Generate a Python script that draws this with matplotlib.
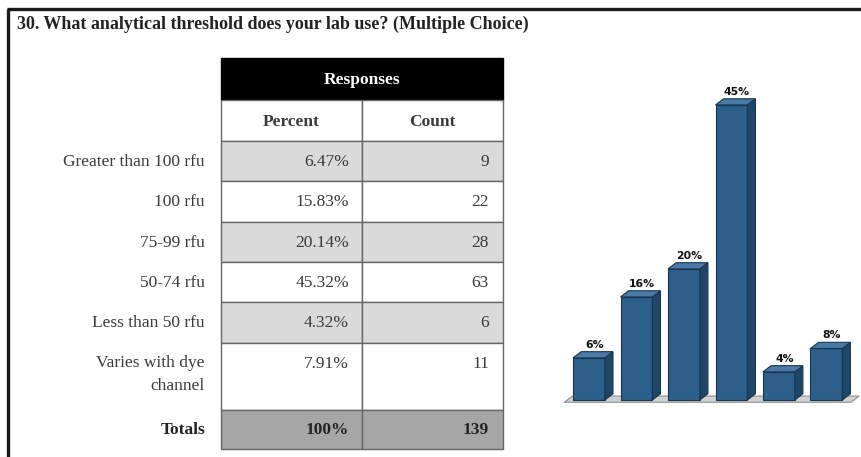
import matplotlib.pyplot as plt
from matplotlib.patches import Rectangle, Polygon

title = "30. What analytical threshold does your lab use? (Multiple Choice)"
answers = ["Greater than 100 rfu", "100 rfu", "75-99 rfu", "50-74 rfu",
           "Less than 50 rfu", "Varies with dye\nchannel"]
percents = [6.47, 15.83, 20.14, 45.32, 4.32, 7.91]
counts = [9, 22, 28, 63, 6, 11]
total_percent = "100%"
total_count = 139

plt.rcParams['font.family'] = ['Liberation Serif', 'DejaVu Serif']

W, H = 862, 457
fig = plt.figure(figsize=(W / 100, H / 100), dpi=100)

# whole-figure axes in pixel units for the frame, title and table
tab = fig.add_axes([0, 0, 1, 1])
tab.set_xlim(0, W)
tab.set_ylim(H, 0)
tab.axis('off')

tab.plot([7.5, W], [9, 9], color='#1a1a1a', lw=2.4, solid_capstyle='butt')
tab.plot([8.5, 8.5], [9, H], color='#1a1a1a', lw=2.4, solid_capstyle='butt')
tab.text(17, 29, title, fontsize=13.0, fontweight='bold', color='#222222',
         ha='left', va='baseline')

text_col = '#3a3a3a'
line_col = '#666666'
x0, x1, x2 = 221, 362, 503
row_h = [42, 41, 40, 41, 40, 40, 41, 67, 39]
edges = [58]
for h in row_h:
    edges.append(edges[-1] + h)

# header
tab.add_patch(Rectangle((x0, edges[0]), x2 - x0, row_h[0], facecolor='black',
                        edgecolor='black', lw=1))
tab.text((x0 + x2) / 2, (edges[0] + edges[1]) / 2 + 1, "Responses", color='white',
         fontsize=12.5, fontweight='bold', ha='center', va='center')
for a, b in [(x0, x1), (x1, x2)]:
    tab.add_patch(Rectangle((a, edges[1]), b - a, row_h[1], facecolor='white',
                            edgecolor=line_col, lw=1))
tab.text((x0 + x1) / 2, (edges[1] + edges[2]) / 2 + 1, "Percent", color=text_col,
         fontsize=12.5, fontweight='bold', ha='center', va='center')
tab.text((x1 + x2) / 2, (edges[1] + edges[2]) / 2 + 1, "Count", color=text_col,
         fontsize=12.5, fontweight='bold', ha='center', va='center')

for i, (lab, p, c) in enumerate(zip(answers, percents, counts)):
    top, bot = edges[i + 2], edges[i + 3]
    fc = '#dadada' if i % 2 == 0 else 'white'
    for a, b in [(x0, x1), (x1, x2)]:
        tab.add_patch(Rectangle((a, top), b - a, bot - top, facecolor=fc,
                                edgecolor=line_col, lw=1))
    ty = top + 21
    if '\n' in lab:
        tab.text(205, top + 12, lab, color=text_col, fontsize=12.5, ha='right',
                 va='top', linespacing=1.55)
    else:
        tab.text(205, ty, lab, color=text_col, fontsize=12.5, ha='right', va='center')
    tab.text(x1 - 13, ty, f"{p:.2f}%", color=text_col, fontsize=12.5,
             ha='right', va='center')
    tab.text(x2 - 14, ty, str(c), color=text_col, fontsize=12.5,
             ha='right', va='center')

top, bot = edges[-2], edges[-1]
for a, b in [(x0, x1), (x1, x2)]:
    tab.add_patch(Rectangle((a, top), b - a, bot - top, facecolor='#a6a6a6',
                            edgecolor=line_col, lw=1))
ty = (top + bot) / 2 + 1
tab.text(205, ty, "Totals", color='#222222', fontsize=12.5, fontweight='bold',
         ha='right', va='center')
tab.text(x1 - 13, ty, total_percent, color='#222222', fontsize=12.5,
         fontweight='bold', ha='right', va='center')
tab.text(x2 - 14, ty, str(total_count), color='#222222', fontsize=12.5,
         fontweight='bold', ha='right', va='center')

# 3D-looking bar chart
ax = fig.add_axes([560.5 / W, 1 - 406.5 / H, 301.5 / W, 332 / H])
ax.set_xlim(-0.6, 5.75)
ax.set_ylim(-1, 50)
ax.axis('off')

xs = list(range(len(percents)))
bw = 0.67
dx, dy = 0.17, 0.95
front, side, topc, edge = '#2d5f8b', '#1f4567', '#4a7aa5', '#173550'

ax.add_patch(Polygon([(-0.52, -0.35), (5.52, -0.35), (5.52 + dx, -0.35 + dy),
                      (-0.52 + dx, -0.35 + dy)], closed=True,
                     facecolor='#d0d0d0', edgecolor='#909090', lw=0.8, zorder=1))

ax.bar(xs, percents, width=bw, color=front, edgecolor=edge, lw=0.8, zorder=3)
for x, p in zip(xs, percents):
    r = x + bw / 2
    l = x - bw / 2
    ax.add_patch(Polygon([(r, 0), (r + dx, dy), (r + dx, p + dy), (r, p)],
                         closed=True, facecolor=side, edgecolor=edge, lw=0.8, zorder=3))
    ax.add_patch(Polygon([(l, p), (r, p), (r + dx, p + dy), (l + dx, p + dy)],
                         closed=True, facecolor=topc, edgecolor=edge, lw=0.8, zorder=3))
    ax.text(x + dx / 2 + 0.03, p + dy + 0.3, f"{round(p)}%", fontsize=7.8,
            fontweight='heavy', family='DejaVu Sans', ha='center', va='bottom',
            color='#111111')

fig.savefig('out.png', dpi=100)
